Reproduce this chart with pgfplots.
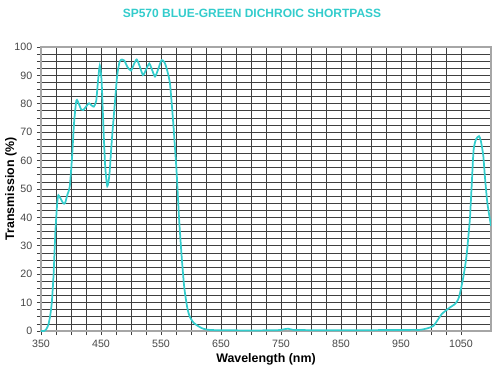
\documentclass[border=0pt]{standalone}
\usepackage{pgfplots}
\pgfplotsset{compat=1.18}
\usepackage{fontspec}
\setmainfont{Liberation Sans}
\definecolor{teal1}{RGB}{51,204,204}
\definecolor{tickgray}{RGB}{70,70,70}
\begin{document}
\begin{tikzpicture}
\path[use as bounding box] (-30.75pt,-33pt) rectangle (344.25pt,248.25pt);
\begin{axis}[
  scale only axis,
  width=337.5pt, height=213pt,
  xmin=350, xmax=1100, ymin=0, ymax=100,
  xtick={350,450,...,1050},
  minor x tick num=3,
  ytick={0,10,...,100},
  minor y tick num=3,
  grid=both,
  major grid style={black!75, line width=0.6pt},
  minor grid style={black!75, line width=0.6pt},
  axis line style={gray!70, line width=1pt},
  tick style={black!75, line width=0.6pt},
  tick align=outside,
  major tick length=3pt, minor tick length=3pt,
  xtick pos=left, ytick pos=left,
  ticklabel style={font=\fontsize{8}{9}\selectfont, text=tickgray},
  /pgf/number format/assume math mode=true,
  /pgf/number format/1000 sep={},
  xlabel={\bfseries Wavelength (nm)},
  ylabel={\bfseries Transmission (\%)},
  label style={font=\fontsize{9.3}{11}\selectfont},
  xlabel style={yshift=2pt},
  ylabel style={yshift=-8.5pt},
  clip=true,
]
\addplot[teal1, line width=1.3pt, smooth, tension=0.4] coordinates {
(350,0) (355,0) (358,0.4) (362,2) (365,5) (368,10) (371,20) (374,35) (377,45)
(379,47.8) (383,46.5) (387,45) (390,45) (394,48) (398,51) (402,62) (405,73)
(409,81.2) (413,80) (417,78) (420.5,77.8) (425,79) (430,80.2) (434,79.5)
(438,79) (442,81) (445,88) (448,93.5) (451,88) (454,72) (457,58) (460.5,51)
(464,55) (468,67) (473,80) (477,90) (481,94.8) (485,95.6) (489,95.2) (494,93)
(500,91.7) (505,94) (509.5,95.6) (514,93.5) (520,90.1) (525,92) (530.5,94.2)
(535,92) (540,89.6) (545,92) (551,95.4) (556,94.5) (560,92) (565,87)
(570.5,73) (576,56) (580,40) (584.5,26) (588,17) (590,13.3) (594,8) (598,5)
(604,3) (610,2) (618,1) (626,0.5) (640,0.3) (700,0.2) (745,0.3) (755,0.6)
(762,0.8) (770,0.4) (800,0.3) (900,0.3) (970,0.4) (982,0.4) (995,1)
(1004,1.8) (1010,3.5) (1018,6) (1026,7.4) (1033,8.5) (1040,9.5) (1045,11)
(1048,13) (1053,18) (1057,23) (1060,28) (1063,35) (1065,40) (1068,52)
(1071,63.7) (1075,67.5) (1080,68.6) (1083,67) (1087,62) (1090,54) (1094,45)
(1100,37)
};
\end{axis}
\node[font=\fontsize{9}{11}\selectfont\bfseries, text=teal1] at (158.25pt,238.5pt) {SP570 BLUE-GREEN DICHROIC SHORTPASS};
\end{tikzpicture}
\end{document}
